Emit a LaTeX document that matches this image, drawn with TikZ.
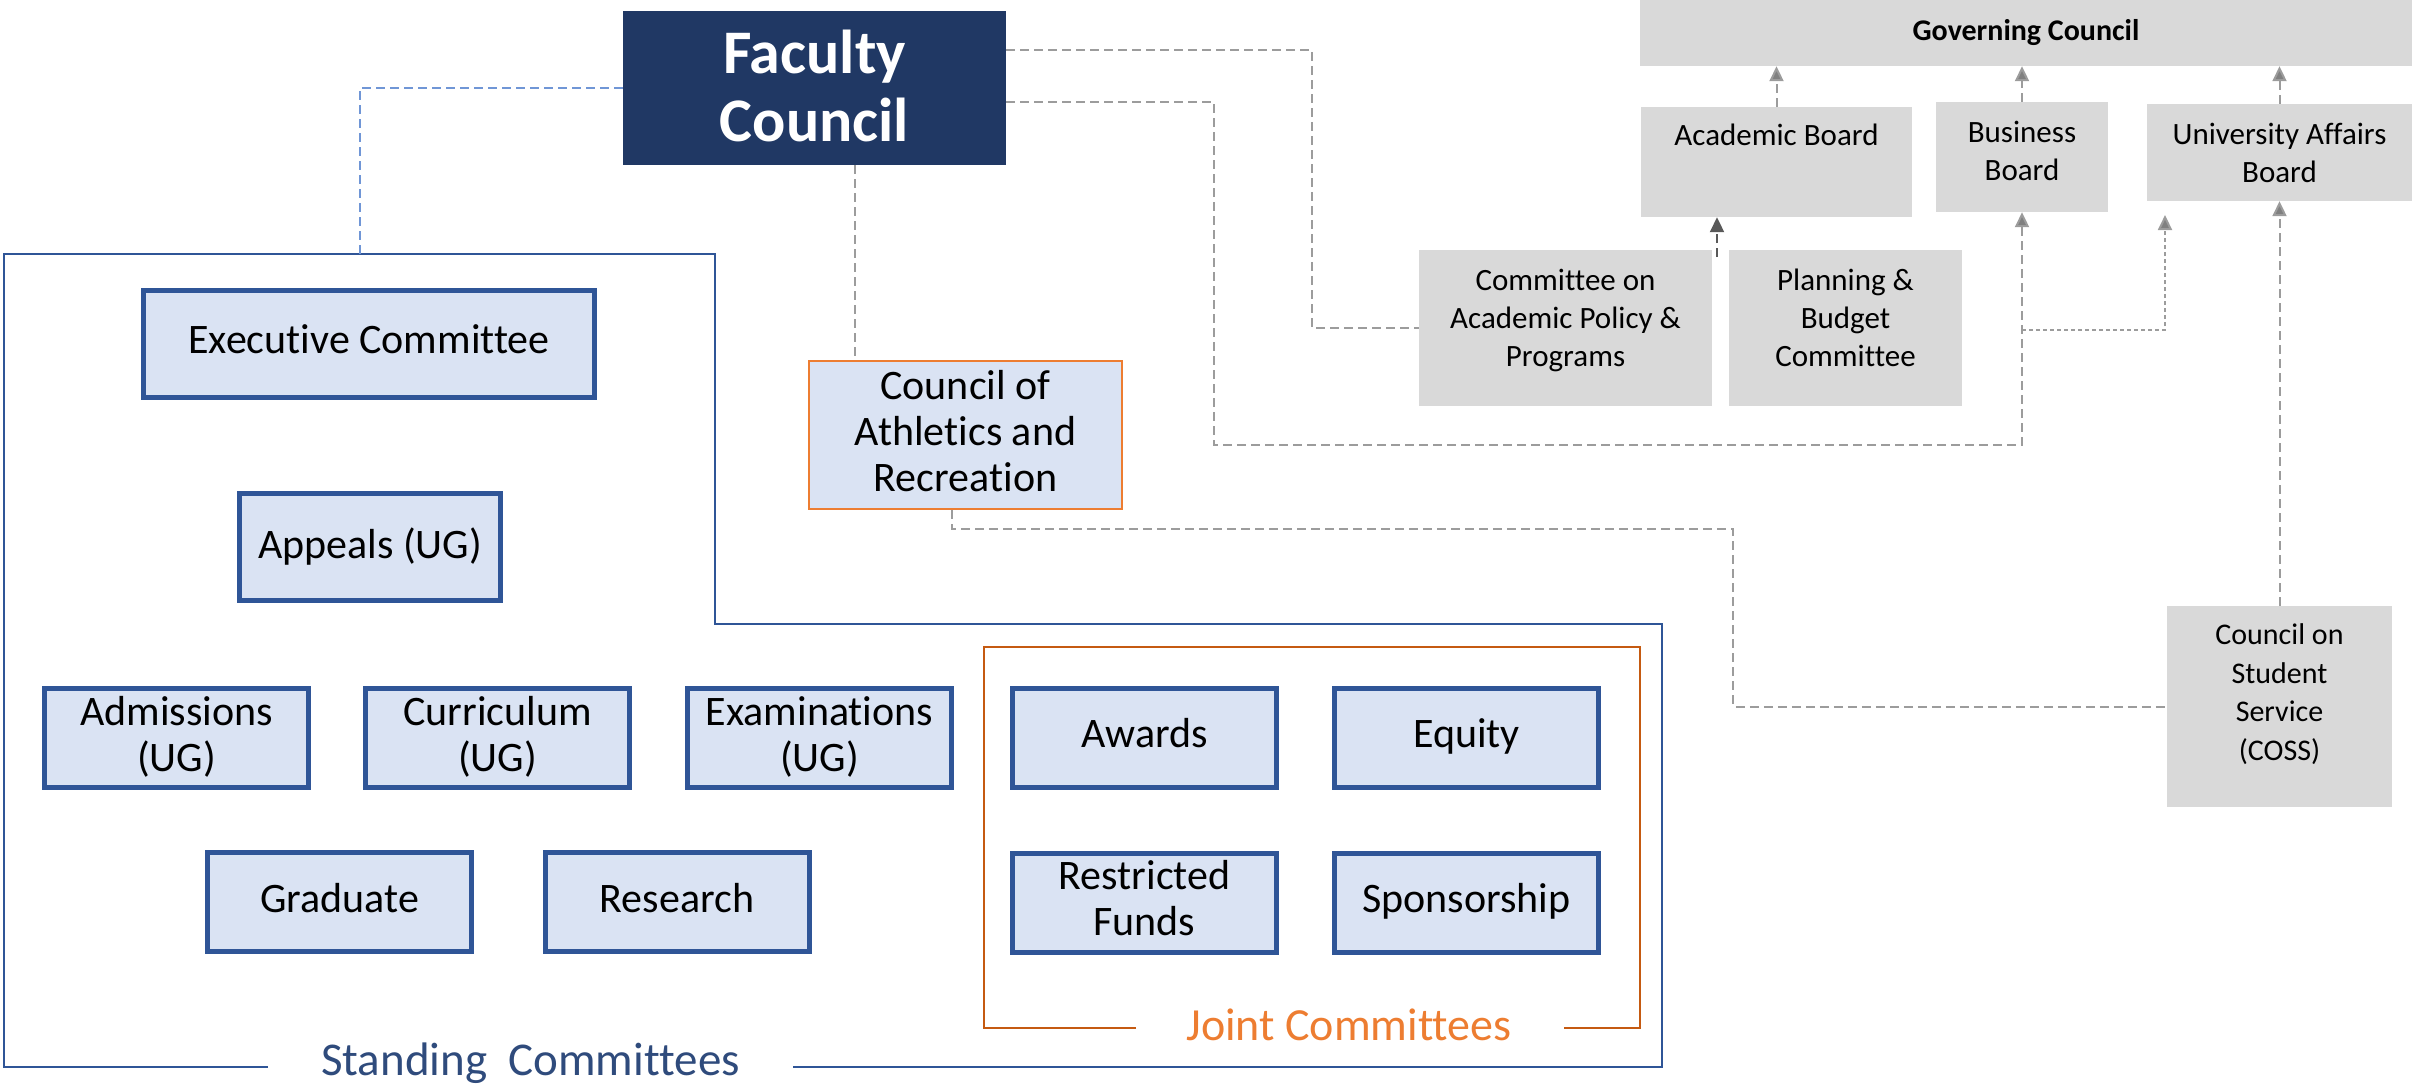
\documentclass[tikz,border=0pt]{standalone}
\usepackage{fontspec}
\setmainfont[Ligatures=NoCommon]{Carlito}
\usetikzlibrary{arrows.meta,calc}
\definecolor{navy}{HTML}{203864}
\definecolor{bborder}{HTML}{2F5597}
\definecolor{bfill}{HTML}{DAE3F3}
\definecolor{gfill}{HTML}{D9D9D9}
\definecolor{orA}{HTML}{ED7D31}
\definecolor{orB}{HTML}{C55A11}
\definecolor{stxt}{HTML}{2F4B7C}
\definecolor{cgray}{HTML}{9C9C9C}
\definecolor{agray}{HTML}{808080}
\definecolor{dgray}{HTML}{595959}
\definecolor{lblue}{HTML}{7096D6}
\newcommand\myfs[2]{\fontsize{#1}{#2}\selectfont}
\newcommand\blk[1]{\begin{tabular}[b]{@{}c@{}}#1\end{tabular}}
\begin{document}
\begin{tikzpicture}[x=1pt,y=-1pt,
  bluebox/.style={draw=bborder, line width=5pt, fill=bfill, minimum width=264pt, minimum height=99pt, inner sep=0pt, font=\myfs{42}{46}},
  graybox/.style={fill=gfill, inner sep=0pt, font=\myfs{31}{38}},
  lb/.style={text height=#1, text depth=0pt},
  conn/.style={draw=cgray, line width=2pt, dash pattern=on 9pt off 5pt},
  fine/.style={draw=cgray, line width=2pt, dash pattern=on 4pt off 3pt},
  bconn/.style={draw=lblue, line width=2pt, dash pattern=on 9pt off 5pt},
  arr/.style={-{Triangle[length=15pt,width=14pt,fill=agray]}},
  darr/.style={draw=dgray, -{Triangle[length=15pt,width=14pt,fill=dgray]}},
  standline/.style={draw=bborder, line width=2.5pt},
  jointline/.style={draw=orB, line width=2.5pt}
]
\useasboundingbox (0,0) rectangle (2412,1084);

% group outlines and labels
\node[anchor=base, text=stxt, font=\myfs{47}{50}] (stl) at (530.5,1075) {Standing\ \ Committees};
\draw[standline] (268,1067) -- (4,1067) -- (4,254) -- (715,254) -- (715,624) -- (1662,624) -- (1662,1067) -- (793,1067);
\node[anchor=base, text=orA, font=\myfs{46}{50}] (jl) at (1349,1040) {Joint Committees};
\draw[jointline] (1136,1028) -- (984,1028) -- (984,647) -- (1640,647) -- (1640,1028) -- (1564,1028);

% Faculty Council
\node[fill=navy, text=white, minimum width=383pt, minimum height=154pt, inner sep=0pt, font=\bfseries\myfs{62}{68}, lb=106pt] (fc) at (814.5,88) {\blk{Faculty\\Council}};

% standing committees
\node[bluebox, minimum width=451pt, minimum height=107pt, lb=18pt] (exec) at (369,344) {Executive Committee};
\node[bluebox, minimum width=261pt, minimum height=107pt, lb=22pt] (app) at (370,547) {Appeals (UG)};
\node[bluebox, lb=66pt] (adm) at (176.5,738) {\blk{Admissions\\(UG)}};
\node[bluebox, lb=66pt] (cur) at (497.5,738) {\blk{Curriculum\\(UG)}};
\node[bluebox, lb=66pt] (exa) at (819.5,738) {\blk{Examinations\\(UG)}};
\node[bluebox, lb=20pt] (grad) at (339.5,902) {Graduate};
\node[bluebox, lb=20pt] (res) at (677,902) {Research};

% joint committees
\node[bluebox, lb=18pt] (awd) at (1144.5,738) {Awards};
\node[bluebox, lb=18pt] (eqt) at (1466.5,738) {Equity};
\node[bluebox, lb=64pt] (rfd) at (1144.5,903) {\blk{Restricted\\Funds}};
\node[bluebox, lb=18pt] (spn) at (1466.5,903) {Sponsorship};

% athletics
\node[draw=orA, line width=2.5pt, fill=bfill, minimum width=313pt, minimum height=148pt, inner sep=0pt, font=\myfs{42}{46}, lb=112pt] (ath) at (965.5,435) {\blk{Council of\\Athletics and\\Recreation}};

% governance (gray)
\node[graybox, minimum width=772pt, minimum height=66pt, font=\bfseries\myfs{30}{36}, lb=14pt] (gc) at (2026,33) {Governing Council};
\node[graybox, minimum width=271pt, minimum height=110pt, text height=0pt, text depth=34pt] (ab) at (1776.5,162) {Academic Board};
\node[graybox, minimum width=172pt, minimum height=110pt, lb=46pt] (bb) at (2022,157) {\blk{Business\\Board}};
\node[graybox, minimum width=265pt, minimum height=97pt, lb=59pt] (uab) at (2279.5,152.5) {\blk{University Affairs\\Board}};
\node[graybox, minimum width=293pt, minimum height=156pt, lb=76pt] (capp) at (1565.5,328) {\blk{Committee on\\Academic Policy \&\\Programs}};
\node[graybox, minimum width=233pt, minimum height=156pt, lb=76pt] (pbc) at (1845.5,328) {\blk{Planning \&\\Budget\\Committee}};
\node[graybox, minimum width=225pt, minimum height=201pt, font=\myfs{30}{38.5}, lb=107pt] (coss) at (2279.5,706.5) {\blk{Council on\\Student\\Service\\(COSS)}};

% connectors
\coordinate (stop) at (360,254);
\draw[bconn] (fc.west) -| (stop);

\coordinate (fcb) at ([xshift=40.5pt]fc.south);
\draw[conn] (fcb) -- (fcb |- ath.north);

\coordinate (k1) at (1312,328);
\draw[conn] ([yshift=38pt]fc.east) -| (k1) -- (capp.west);

\coordinate (k2) at (1214,445);
\draw[conn, arr] ([yshift=-14pt]fc.east) -| (k2) -| (bb.south);

\coordinate (k3) at (2022,330);
\coordinate (uabin) at (2165,215);
\draw[fine, arr] (k3) -| (uabin);

\coordinate (athb) at ([xshift=-13.5pt]ath.south);
\coordinate (k4) at (1733,529);
\draw[conn] (athb) |- (k4) |- (coss.west);

\draw[conn, arr] (coss.north) -- (coss.north |- uab.south);

\coordinate (cappa) at (1717,257);
\draw[conn, darr] (cappa) -- (cappa |- ab.south);

\draw[conn, arr] (ab.north) -- (ab.north |- gc.south);
\draw[conn, arr] (bb.north) -- (bb.north |- gc.south);
\draw[conn, arr] (uab.north) -- (uab.north |- gc.south);
\end{tikzpicture}
\end{document}
